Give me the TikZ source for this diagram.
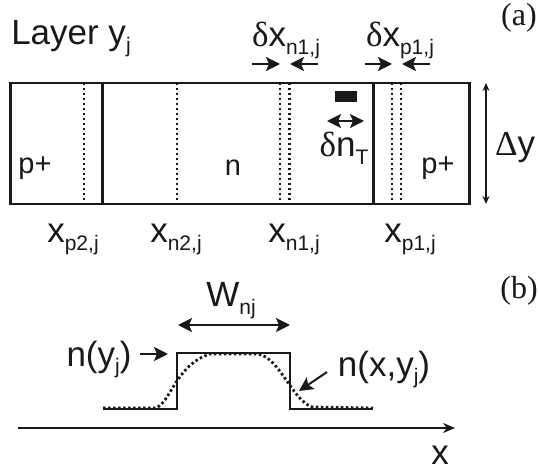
\documentclass[tikz,border=0pt]{standalone}
\usepackage{fontspec}
\setmainfont{Liberation Sans}
\newfontfamily\greekfont{Liberation Serif}
\usepackage{xcolor}
\usetikzlibrary{arrows.meta,positioning}
\newcommand{\sz}[1]{\fontsize{#1}{#1}\selectfont}
\newcommand{\lo}[2][0pt]{\kern#1\raisebox{-0.22em}{\sz{21}#2}}
\newcommand{\dl}{{\greekfont δ}}

\begin{document}
\begin{tikzpicture}[x=1pt,y=-1pt,line width=2.5pt,color=black!90,
  lab/.style={inner sep=0pt,font=\sz{35}},
  doping/.style={inner sep=0pt,font=\sz{29}},
  panel/.style={inner sep=0pt,font={\greekfont\sz{32}}},
  dots/.style={line width=2.8pt,dash pattern=on 2.5pt off 2.5pt},
  arr/.style={-{Stealth[length=14pt,width=14pt,inset=3pt]},line width=2pt},
  both/.style={{Stealth[length=14pt,width=14pt,inset=3pt]}-{Stealth[length=14pt,width=14pt,inset=3pt]},line width=2pt}]
  \useasboundingbox (0,0) rectangle (538,470);
  % panel (a)
  \node[draw,minimum width=459pt,minimum height=121pt,inner sep=0pt,anchor=north west] (layer) at (9,82) {};
  \foreach \x in {102.5,373.5}
    \draw (\x,82) -- (\x,203);
  \foreach \x in {84,177,280,289.5,392,401}
    \draw[dots] (\x,83) -- (\x,203);
  \node[fill,minimum width=22pt,minimum height=11pt,inner sep=0pt] (trap) at (346,96.5) {};

  \node[lab,anchor=base west] (title) at (10,45) {Layer y\lo{j}};
  \node[panel] (pa) at (519,18) {(a)};
  \node[doping] (p2) at (35,168) {p+};
  \node[doping] (nn) at (233,168) {n};
  \node[doping] (p1) at (438,168) {p+};
  \node[lab,anchor=base] (dxn) at (286,47) {\dl x\lo{n1,j}};
  \node[lab,anchor=base] (dxp) at (400,47) {\dl x\lo{p1,j}};
  \node[lab,anchor=base] (dnt) at (344,157) {\dl n\lo{T}};
  \node[lab,anchor=base] (dy) at (515,156) {{\greekfont Δ}y};
  \node[lab,anchor=base] (xp2) at (73,243) {x\lo{p2,j}};
  \node[lab,anchor=base] (xn2) at (176,243) {x\lo{n2,j}};
  \node[lab,anchor=base] (xn1) at (294,243) {x\lo{n1,j}};
  \node[lab,anchor=base] (xp1) at (410,243) {x\lo{p1,j}};

  \coordinate (a1) at (252,64);   \coordinate (a2) at (280,64);
  \coordinate (a3) at (318,64);   \coordinate (a4) at (290,64);
  \coordinate (a5) at (365,64);   \coordinate (a6) at (392,64);
  \coordinate (a7) at (430,64);   \coordinate (a8) at (402,64);
  \coordinate (ny1) at (140,354); \coordinate (ny2) at (168,354);
  \coordinate (nx1) at (327,372); \coordinate (nx2) at (299,391);
  \foreach \a/\b in {a1/a2,a3/a4,a5/a6,a7/a8,ny1/ny2,nx1/nx2}
    \draw[arr] (\a) -- (\b);

  \coordinate (dn1) at (327,121); \coordinate (dn2) at (364,121);
  \coordinate (dy1) at (486,83);  \coordinate (dy2) at (486,204);
  \coordinate (w1) at (178,325);  \coordinate (w2) at (290,325);
  \draw[both] (dn1) -- (dn2);
  \draw[both,{Stealth[length=8pt,width=7pt]}-{Stealth[length=8pt,width=7pt]}] (dy1) -- (dy2);
  \draw[both] (w1) -- (w2);

  % panel (b)
  \node[panel] (pb) at (519,291) {(b)};
  \node[lab,anchor=base] (wnj) at (231,307) {W\lo{nj}};
  \node[lab,anchor=base] (nyj) at (99,366) {n(y\lo{j})};
  \node[lab,anchor=base] (nxy) at (384,376) {n(x,y\lo{j})};
  \node[lab,anchor=base] (xx) at (440,464) {x};

  \draw (103,409) -- (177,409) -- (177,353) -- (290,353) -- (290,409) -- (373,409);
  \draw[dots] (103,408) -- (155,408) .. controls (170,405) and (175,365) .. (210,354)
    -- (258,354) .. controls (280,358) and (292,400) .. (312,407) -- (373,408);
  \coordinate (ax1) at (18,428);  \coordinate (ax2) at (455,428);
  \draw[-{Stealth[length=12pt,width=10pt]},line width=2.2pt] (ax1) -- (ax2);
\end{tikzpicture}
\end{document}
